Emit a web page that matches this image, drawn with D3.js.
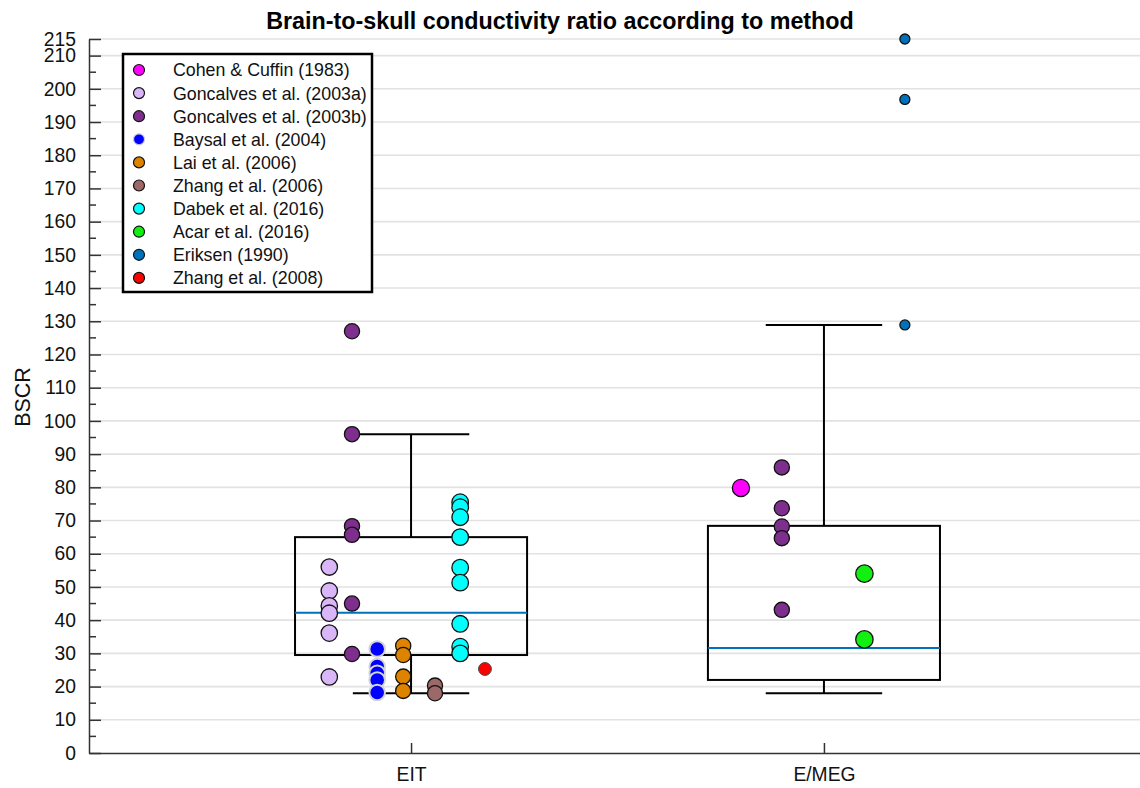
<!DOCTYPE html>
<html>
<head>
<meta charset="utf-8">
<script src="https://cdn.jsdelivr.net/npm/d3@7"></script>
<style>
  html, body { margin: 0; padding: 0; background: #fff; }
  svg { display: block; font-family: "Liberation Sans", Arial, Helvetica, sans-serif; }
</style>
</head>
<body>
<svg id="chart" width="1140" height="788"></svg>
<script>
// ---------------- DATA ----------------
const categories = ["EIT", "E/MEG"];
const studyNames = [
  "Cohen & Cuffin (1983)",
  "Goncalves et al. (2003a)",
  "Goncalves et al. (2003b)",
  "Baysal et al. (2004)",
  "Lai et al. (2006)",
  "Zhang et al. (2006)",
  "Dabek et al. (2016)",
  "Acar et al. (2016)",
  "Eriksen (1990)",
  "Zhang et al. (2008)"
];
// EIT values per study
const goncalvesA_EIT = [56, 48.8, 44.3, 42.1, 36.1, 22.9];
const goncalvesB_EIT = [127, 96, 68.3, 65.7, 45, 29.8];
const baysal_EIT     = [31.3, 26, 24, 22, 18.2];
const lai_EIT        = [32.3, 29.5, 23, 18.7];
const zhang06_EIT    = [20.3, 18];
const dabek_EIT      = [75.5, 74, 71, 65, 55.8, 51.3, 38.9, 32, 30];
const zhang08_EIT    = [25.3];
// E/MEG values per study
const cohen_EMEG      = [79.8];
const goncalvesB_EMEG = [86, 73.7, 68.2, 64.7, 43.1];
const acar_EMEG       = [54, 34.2];
const eriksen_EMEG    = [215, 196.8, 128.9];
// Box statistics: [lower whisker, Q1, median, Q3, upper whisker]
const boxEIT  = [18, 29.5, 42.2, 65, 96];
const boxEMEG = [18, 22, 31.6, 68.4, 128.9];
// Tick labels
const yMajorTicks = [0,10,20,30,40,50,60,70,80,90,100,110,120,130,140,150,160,170,180,190,200,210,215];
const yMinorTicks = [5,15,25,35,45,55,65,75,85,95,105,115,125,135,145,155,165,175,185,195,205];

// ---------------- STYLES ----------------
const studyStyle = {
  "Cohen & Cuffin (1983)":    { fill: "#ff00ff", stroke: "#111", r: 8.6, sw: 1.3 },
  "Goncalves et al. (2003a)": { fill: "#d9b6f7", stroke: "#111", r: 8.2, sw: 1.3 },
  "Goncalves et al. (2003b)": { fill: "#7e2f8e", stroke: "#111", r: 7.6, sw: 1.3 },
  "Baysal et al. (2004)":     { fill: "#0000ff", stroke: "#d4d4d4", r: 7.8, sw: 2 },
  "Lai et al. (2006)":        { fill: "#dd8300", stroke: "#111", r: 7.6, sw: 1.3 },
  "Zhang et al. (2006)":      { fill: "#9c6868", stroke: "#111", r: 7.6, sw: 1.3 },
  "Dabek et al. (2016)":      { fill: "#00ffff", stroke: "#111", r: 8.3, sw: 1.3 },
  "Acar et al. (2016)":       { fill: "#11f011", stroke: "#111", r: 8.7, sw: 1.3 },
  "Eriksen (1990)":           { fill: "#0072bd", stroke: "#111", r: 5, sw: 1.3 },
  "Zhang et al. (2008)":      { fill: "#ff0000", stroke: "#444", r: 6.4, sw: 1.0 }
};
// Horizontal offset (in category units) for each study's column
const series = [
  { study: "Goncalves et al. (2003a)", cat: "EIT",   off: -0.198, values: goncalvesA_EIT },
  { study: "Goncalves et al. (2003b)", cat: "EIT",   off: -0.143, values: goncalvesB_EIT },
  { study: "Baysal et al. (2004)",     cat: "EIT",   off: -0.082, values: baysal_EIT },
  { study: "Lai et al. (2006)",        cat: "EIT",   off: -0.019, values: lai_EIT },
  { study: "Zhang et al. (2006)",      cat: "EIT",   off:  0.058, values: zhang06_EIT },
  { study: "Dabek et al. (2016)",      cat: "EIT",   off:  0.119, values: dabek_EIT },
  { study: "Zhang et al. (2008)",      cat: "EIT",   off:  0.179, values: zhang08_EIT },
  { study: "Cohen & Cuffin (1983)",    cat: "E/MEG", off: -0.201, values: cohen_EMEG },
  { study: "Goncalves et al. (2003b)", cat: "E/MEG", off: -0.102, values: goncalvesB_EMEG },
  { study: "Acar et al. (2016)",       cat: "E/MEG", off:  0.098, values: acar_EMEG },
  { study: "Eriksen (1990)",           cat: "E/MEG", off:  0.196, values: eriksen_EMEG }
];
const boxes = [ { cat: "EIT", s: boxEIT }, { cat: "E/MEG", s: boxEMEG } ];

// ---------------- CHART ----------------
const svg = d3.select("#chart");
const x = d3.scaleLinear().domain([0.22, 2.78]).range([89, 1146]);
const catPos = c => categories.indexOf(c) + 1;
const y = d3.scaleLinear().domain([0, 215]).range([753, 39]);

// gridlines
svg.append("g").selectAll("line").data(yMajorTicks.filter(d => d > 0)).join("line")
  .attr("x1", 89).attr("x2", 1140)
  .attr("y1", d => y(d)).attr("y2", d => y(d))
  .attr("stroke", "#e2e2e2").attr("stroke-width", 1.6);

// y axis
const yAxis = d3.axisLeft(y).tickValues(yMajorTicks).tickFormat(d3.format("d"))
  .tickSizeInner(-12).tickSizeOuter(0).tickPadding(13);
const gy = svg.append("g").attr("transform", "translate(89,0)").call(yAxis);
gy.select(".domain").attr("stroke", "#333").attr("stroke-width", 1.5);
gy.selectAll(".tick line").attr("stroke", "#333").attr("stroke-width", 1.5);
gy.selectAll(".tick text").attr("font-size", 19.3).attr("fill", "#111")
  .attr("font-family", "'Liberation Sans', Arial, sans-serif");
svg.append("g").selectAll("line").data(yMinorTicks).join("line")
  .attr("x1", 89).attr("x2", 96).attr("y1", d => y(d)).attr("y2", d => y(d))
  .attr("stroke", "#333").attr("stroke-width", 1.5);

// x axis
const xAxis = d3.axisBottom(x).tickValues([1, 2]).tickFormat(d => categories[d - 1])
  .tickSizeInner(-10).tickSizeOuter(0).tickPadding(14);
const gx = svg.append("g").attr("transform", "translate(0,753)").call(xAxis);
gx.select(".domain").attr("stroke", "#333").attr("stroke-width", 1.5);
gx.selectAll(".tick line").attr("stroke", "#333").attr("stroke-width", 1.5);
gx.selectAll(".tick text").attr("font-size", 19.3).attr("fill", "#111")
  .attr("font-family", "'Liberation Sans', Arial, sans-serif");

// boxes
const boxHalf = 0.281, capHalf = 0.141;
const gb = svg.append("g");
boxes.forEach(b => {
  const c = catPos(b.cat);
  const [lw, q1, med, q3, uw] = b.s;
  gb.append("line").attr("x1", x(c)).attr("x2", x(c)).attr("y1", y(q3)).attr("y2", y(uw))
    .attr("stroke", "#000").attr("stroke-width", 2);
  gb.append("line").attr("x1", x(c)).attr("x2", x(c)).attr("y1", y(q1)).attr("y2", y(lw))
    .attr("stroke", "#000").attr("stroke-width", 2);
  gb.append("line").attr("x1", x(c - capHalf)).attr("x2", x(c + capHalf)).attr("y1", y(uw)).attr("y2", y(uw))
    .attr("stroke", "#000").attr("stroke-width", 2);
  gb.append("line").attr("x1", x(c - capHalf)).attr("x2", x(c + capHalf)).attr("y1", y(lw)).attr("y2", y(lw))
    .attr("stroke", "#000").attr("stroke-width", 2);
  gb.append("rect").attr("x", x(c - boxHalf)).attr("width", x(c + boxHalf) - x(c - boxHalf))
    .attr("y", y(q3)).attr("height", y(q1) - y(q3))
    .attr("fill", "none").attr("stroke", "#000").attr("stroke-width", 2);
  gb.append("line").attr("x1", x(c - boxHalf)).attr("x2", x(c + boxHalf)).attr("y1", y(med)).attr("y2", y(med))
    .attr("stroke", "#0072bd").attr("stroke-width", 2);
});

// points
const gp = svg.append("g");
series.forEach(s => {
  const st = studyStyle[s.study];
  gp.append("g").selectAll("circle").data(s.values).join("circle")
    .attr("cx", x(catPos(s.cat) + s.off)).attr("cy", d => y(d)).attr("r", st.r)
    .attr("fill", st.fill).attr("stroke", st.stroke).attr("stroke-width", st.sw);
});

// title
svg.append("text").attr("x", 560).attr("y", 29).attr("text-anchor", "middle")
  .attr("font-size", 23.3).attr("font-weight", "bold").attr("fill", "#000")
  .text("Brain-to-skull conductivity ratio according to method");

// y label
svg.append("text").attr("transform", "translate(30,397) rotate(-90)")
  .attr("text-anchor", "middle").attr("font-size", 21.5).attr("fill", "#111").text("BSCR");

// legend
const lg = svg.append("g");
lg.append("rect").attr("x", 123).attr("y", 54).attr("width", 249).attr("height", 238)
  .attr("fill", "#fff").attr("stroke", "#000").attr("stroke-width", 2.5);
const rows = lg.selectAll("g.row").data(studyNames).join("g").attr("class", "row")
  .attr("transform", (d, i) => `translate(0,${70 + i * 23.1})`);
rows.append("circle").attr("cx", 139).attr("cy", 0).attr("r", 5.5)
  .attr("fill", d => studyStyle[d].fill)
  .attr("stroke", d => studyStyle[d].stroke === "#d4d4d4" ? "#c8c8e8" : "#111")
  .attr("stroke-width", 1.2);
rows.append("text").attr("x", 173).attr("y", 0).attr("dy", "0.36em")
  .attr("font-size", 17.8).attr("fill", "#111").text(d => d);
</script>
</body>
</html>
